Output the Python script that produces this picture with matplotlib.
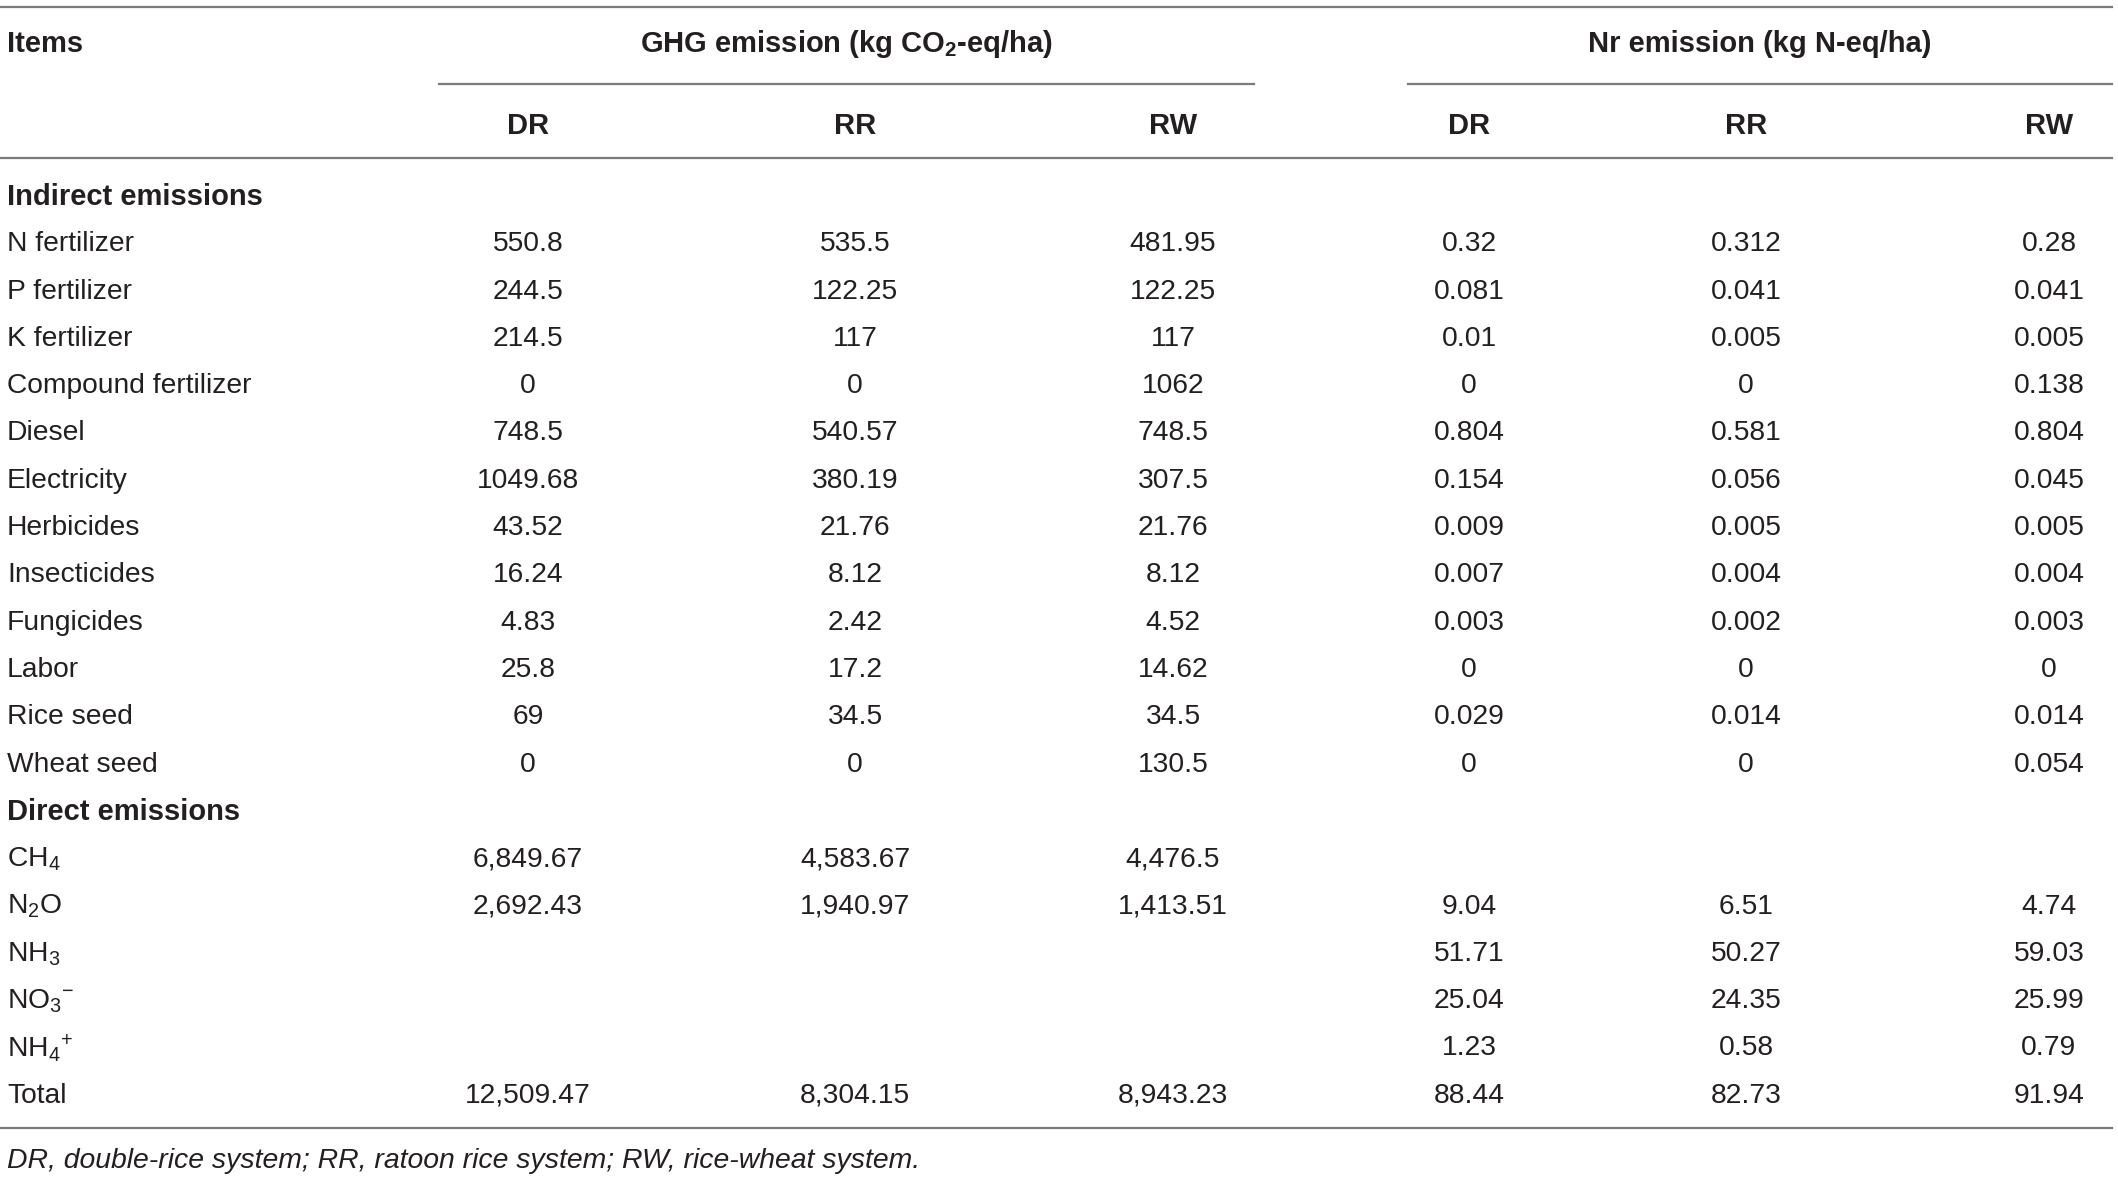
import matplotlib
matplotlib.use("Agg")
import matplotlib.pyplot as plt

plt.rcParams['font.family'] = ['Liberation Sans', 'DejaVu Sans']
plt.rcParams['mathtext.fontset'] = 'custom'
plt.rcParams['mathtext.rm'] = 'Liberation Sans'
plt.rcParams['mathtext.it'] = 'Liberation Sans:italic'
plt.rcParams['mathtext.bf'] = 'Liberation Sans:bold'
plt.rcParams['mathtext.default'] = 'regular'

# ---------------- data ----------------
group_headers = ["GHG emission (kg CO$_2$-eq/ha)", "Nr emission (kg N-eq/ha)"]
systems = ["DR", "RR", "RW"]
row_items = ["Indirect emissions", "N fertilizer", "P fertilizer", "K fertilizer",
             "Compound fertilizer", "Diesel", "Electricity", "Herbicides",
             "Insecticides", "Fungicides", "Labor", "Rice seed", "Wheat seed",
             "Direct emissions", "CH$_4$", "N$_2$O", "NH$_3$", "NO$_3$$^{-}$",
             "NH$_4$$^{+}$", "Total"]
section_rows = ["Indirect emissions", "Direct emissions"]
ghg_dr = ["", "550.8", "244.5", "214.5", "0", "748.5", "1049.68", "43.52", "16.24",
          "4.83", "25.8", "69", "0", "", "6,849.67", "2,692.43", "", "", "", "12,509.47"]
ghg_rr = ["", "535.5", "122.25", "117", "0", "540.57", "380.19", "21.76", "8.12",
          "2.42", "17.2", "34.5", "0", "", "4,583.67", "1,940.97", "", "", "", "8,304.15"]
ghg_rw = ["", "481.95", "122.25", "117", "1062", "748.5", "307.5", "21.76", "8.12",
          "4.52", "14.62", "34.5", "130.5", "", "4,476.5", "1,413.51", "", "", "", "8,943.23"]
nr_dr = ["", "0.32", "0.081", "0.01", "0", "0.804", "0.154", "0.009", "0.007",
         "0.003", "0", "0.029", "0", "", "", "9.04", "51.71", "25.04", "1.23", "88.44"]
nr_rr = ["", "0.312", "0.041", "0.005", "0", "0.581", "0.056", "0.005", "0.004",
         "0.002", "0", "0.014", "0", "", "", "6.51", "50.27", "24.35", "0.58", "82.73"]
nr_rw = ["", "0.28", "0.041", "0.005", "0.138", "0.804", "0.045", "0.005", "0.004",
         "0.003", "0", "0.014", "0.054", "", "", "4.74", "59.03", "25.99", "0.79", "91.94"]
footnote = "DR, double-rice system; RR, ratoon rice system; RW, rice-wheat system."

# ---------------- layout ----------------
W, H = 2118, 1177
fig = plt.figure(figsize=(W / 100, H / 100), dpi=100)
ax = fig.add_axes([0, 0, 1, 1])
ax.set_xlim(0, W)
ax.set_ylim(H, 0)
ax.axis("off")

TXT = "#231f20"
LINE = "#7a7a7a"
FS = 20.3
FSB = 21

col_x = [528, 855, 1173, 1469, 1746, 2049]
left_x = 7
y_head = 44
y_sub = 126
y_row0 = 197
dy = 47.3

# lines
ax.plot([0, 2112], [7, 7], color=LINE, lw=1.6)
ax.plot([439, 1254], [84, 84], color=LINE, lw=1.6)
ax.plot([1408, 2112], [84, 84], color=LINE, lw=1.6)
ax.plot([0, 2112], [158, 158], color=LINE, lw=1.6)
ax.plot([0, 2112], [1128, 1128], color=LINE, lw=1.6)

# headers
ax.text(left_x, y_head, "Items", fontsize=FSB, fontweight="bold", color=TXT,
        ha="left", va="center")
ax.text(846, y_head, group_headers[0], fontsize=FSB, fontweight="bold", color=TXT,
        ha="center", va="center")
ax.text(1760, y_head, group_headers[1], fontsize=FSB, fontweight="bold", color=TXT,
        ha="center", va="center")
for i, s in enumerate(systems + systems):
    ax.text(col_x[i], y_sub, s, fontsize=FSB, fontweight="bold", color=TXT,
            ha="center", va="center")

cols = [ghg_dr, ghg_rr, ghg_rw, nr_dr, nr_rr, nr_rw]
for r, item in enumerate(row_items):
    y = y_row0 + r * dy
    bold = item in section_rows
    ax.text(left_x, y, item, fontsize=FSB if bold else FS,
            fontweight="bold" if bold else "normal",
            color=TXT, ha="left", va="center")
    for c, col in enumerate(cols):
        if col[r]:
            ax.text(col_x[c], y, col[r], fontsize=FS, color=TXT,
                    ha="center", va="center")

ax.text(left_x, 1161, footnote, fontsize=20.4, style="italic", color=TXT,
        ha="left", va="center")

fig.savefig("out.png", dpi=100)
